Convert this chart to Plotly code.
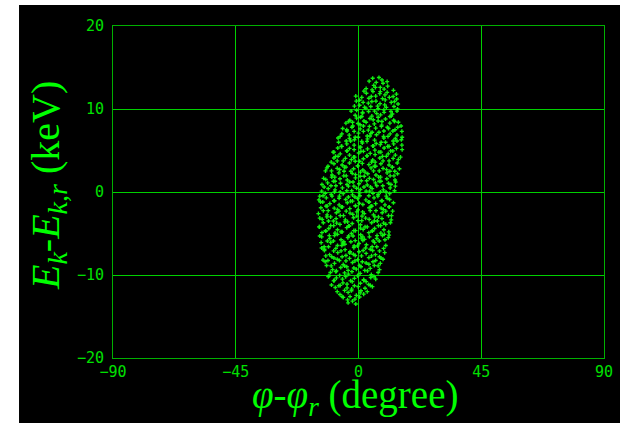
import plotly.graph_objects as go

# (phi - phi_r [degree], E_k - E_k,r [keV]) samples
samples = [
(5.2,13.7),(6.5,13.2),(8.6,13.5),(7.5,13.8),
(3.9,13.35),(5.6,12.85),(8.0,12.6),(9.0,13.1),(10.5,13.3),
(2.0,12.15),(2.8,12.45),(5.0,12.3),(6.2,12.6),(8.0,12.1),(9.4,12.4),(10.7,12.75),(12.8,12.25),
(1.2,11.4),(2.9,11.9),(5.3,12.1),(6.3,11.55),(7.8,11.85),(9.7,11.7),(10.5,12.0),(12.7,11.5),(13.9,11.8),
(-1.0,11.55),(0.4,11.05),(1.7,10.8),(3.8,11.3),(4.7,11.5),(6.4,10.95),(8.8,11.25),(9.8,11.1),(11.3,11.4),(13.2,10.9),(14.0,11.2),
(-0.8,10.95),(0.4,10.45),(2.2,10.2),(3.6,10.7),(4.9,10.9),(7.0,10.35),(7.9,10.65),(9.6,10.5),(12.0,10.8),(13.0,10.3),(14.5,10.6),
(-1.5,10.35),(-0.7,9.85),(1.5,9.6),(2.7,10.1),(4.5,10.3),(5.9,9.75),(7.2,10.05),(9.3,9.9),(10.2,10.2),(11.9,9.7),(14.3,10.0),
(-2.7,9.75),(-1.2,9.25),(0.7,9.0),(1.5,9.5),(3.7,9.7),(4.9,9.15),(6.7,9.45),(8.1,9.3),(9.4,9.6),(11.5,9.1),(12.4,9.4),(14.1,9.75),
(-3.2,8.65),(-2.2,8.4),(-0.7,8.9),(1.2,9.1),(2.0,8.55),(4.2,8.85),(5.4,8.7),(7.2,9.0),(8.6,8.5),(9.9,8.8),(12.0,9.15),(12.9,8.65),(14.6,8.4),
(-4.6,8.3),(-3.6,8.5),(-2.1,7.95),(-0.2,8.25),(0.6,8.1),(2.8,8.4),(4.0,7.9),(5.8,8.2),(7.2,8.55),(8.5,8.05),(10.6,7.8),(11.5,8.3),(13.2,8.5),(15.6,7.95),
(-5.8,7.65),(-4.3,7.5),(-2.4,7.8),(-1.6,7.3),(0.6,7.6),(1.8,7.95),(3.6,7.45),(5.0,7.2),(6.3,7.7),(8.4,7.9),(9.3,7.35),(11.0,7.65),(13.4,7.5),(14.4,7.8),(15.9,7.3),
(-6.1,7.0),(-4.2,7.35),(-3.4,6.85),(-1.2,6.6),(0.0,7.1),(1.8,7.3),(3.2,6.75),(4.5,7.05),(6.6,6.9),(7.5,7.2),(9.2,6.7),(11.6,7.0),(12.6,7.35),(14.1,6.85),(16.0,6.6),
(-7.5,6.5),(-6.7,6.7),(-4.5,6.15),(-3.3,6.45),(-1.5,6.3),(-0.1,6.6),(1.2,6.1),(3.3,6.4),(4.2,6.75),(5.9,6.25),(8.3,6.0),(9.3,6.5),(10.8,6.7),(12.7,6.15),(13.5,6.45),(15.7,6.3),
(-7.3,6.0),(-6.1,5.5),(-4.3,5.8),(-2.9,6.15),(-1.6,5.65),(0.5,5.4),(1.4,5.9),(3.1,6.1),(5.5,5.55),(6.5,5.85),(8.0,5.7),(9.9,6.0),(10.7,5.5),(12.9,5.8),(14.1,6.15),(15.9,5.65),
(-9.0,4.8),(-7.6,5.3),(-6.3,5.5),(-4.2,4.95),(-3.3,5.25),(-1.6,5.1),(0.8,5.4),(1.8,4.9),(3.3,5.2),(5.2,5.55),(6.0,5.05),(8.2,4.8),(9.4,5.3),(11.2,5.5),(12.6,4.95),(13.9,5.25),(16.0,5.1),
(-9.3,4.8),(-8.4,4.3),(-6.7,4.6),(-4.3,4.95),(-3.3,4.45),(-1.8,4.2),(0.1,4.7),(0.9,4.9),(3.1,4.35),(4.3,4.65),(6.1,4.5),(7.5,4.8),(8.8,4.3),(10.9,4.6),(11.8,4.95),(13.5,4.45),
(-10.0,3.6),(-9.0,4.1),(-7.5,4.3),(-5.6,3.75),(-4.8,4.05),(-2.6,3.9),(-1.4,4.2),(0.4,3.7),(1.8,4.0),(3.1,4.35),(5.2,3.85),(6.1,3.6),(7.8,4.1),(10.2,4.3),(11.2,3.75),(12.7,4.05),(14.6,3.9),(15.4,4.2),
(-11.2,3.1),(-9.0,3.4),(-7.8,3.75),(-6.0,3.25),(-4.6,3.0),(-3.3,3.5),(-1.2,3.7),(-0.3,3.15),(1.4,3.45),(3.8,3.3),(4.8,3.6),(6.3,3.1),(8.2,3.4),(9.0,3.75),(11.2,3.25),(12.4,3.0),(14.2,3.5),
(-11.6,2.9),(-9.9,2.55),(-7.8,2.85),(-6.9,2.7),(-5.2,3.0),(-2.8,2.5),(-1.8,2.8),(-0.3,3.15),(1.6,2.65),(2.4,2.4),(4.6,2.9),(5.8,3.1),(7.6,2.55),(9.0,2.85),(10.3,2.7),(12.4,3.0),(13.3,2.5),(15.0,2.8),
(-12.1,2.55),(-9.7,2.05),(-8.7,1.8),(-7.2,2.3),(-5.3,2.5),(-4.5,1.95),(-2.3,2.25),(-1.1,2.1),(0.7,2.4),(2.1,1.9),(3.4,2.2),(5.5,2.55),(6.4,2.05),(8.1,1.8),(10.5,2.3),(11.5,2.5),(13.0,1.95),(14.3,2.2),
(-12.8,1.65),(-12.0,1.5),(-9.8,1.8),(-8.6,1.3),(-6.8,1.6),(-5.4,1.95),(-4.1,1.45),(-2.0,1.2),(-1.1,1.7),(0.6,1.9),(3.0,1.35),(4.0,1.65),(5.5,1.5),(7.4,1.8),(8.2,1.3),(10.4,1.6),(11.6,1.95),(13.4,1.45),
(-13.4,0.9),(-12.6,0.6),(-11.3,1.1),(-9.2,1.3),(-8.3,0.75),(-6.6,1.05),(-4.2,0.9),(-3.2,1.2),(-1.7,0.7),(0.2,1.0),(1.0,1.35),(3.2,0.85),(4.4,0.6),(6.2,1.1),(7.6,1.3),(8.9,0.75),(11.0,1.05),(11.9,0.9),(13.6,1.2),
(-13.5,0.1),(-11.1,0.4),(-10.1,0.75),(-8.6,0.25),(-6.7,0.0),(-5.9,0.5),(-3.7,0.7),(-2.5,0.15),(-0.7,0.45),(0.7,0.3),(2.0,0.6),(4.1,0.1),(5.0,0.4),(6.7,0.75),(9.1,0.25),(10.1,0.0),(11.6,0.5),(13.5,0.7),
(-14.2,-0.5),(-13.0,-0.45),(-12.2,-0.15),(-10.0,-0.3),(-8.8,0.0),(-7.0,-0.5),(-5.6,-0.2),(-4.3,0.15),(-2.2,-0.35),(-1.3,-0.6),(0.4,-0.1),(2.8,0.1),(3.8,-0.45),(5.3,-0.15),(7.2,-0.3),(8.0,0.0),(10.2,-0.5),(11.4,-0.2),(13.2,0.15),
(-14.5,-0.95),(-13.1,-1.2),(-11.8,-0.7),(-9.7,-0.5),(-8.8,-1.05),(-7.1,-0.75),(-4.7,-0.9),(-3.7,-0.6),(-2.2,-1.1),(-0.3,-0.8),(0.5,-0.45),(2.7,-0.95),(3.9,-1.2),(5.7,-0.7),(7.1,-0.5),(8.4,-1.05),(10.5,-0.75),(11.4,-0.9),
(-13.9,-1.2),(-11.5,-1.7),(-10.5,-1.4),(-9.0,-1.05),(-7.1,-1.55),(-6.3,-1.8),(-4.1,-1.3),(-2.9,-1.1),(-1.1,-1.65),(0.3,-1.35),(1.6,-1.5),(3.7,-1.2),(4.6,-1.7),(6.3,-1.4),(8.7,-1.05),(9.7,-1.55),(11.2,-1.8),(12.8,-1.3),
(-13.8,-1.9),(-11.9,-1.7),(-11.1,-2.25),(-8.9,-1.95),(-7.7,-2.1),(-5.9,-1.8),(-4.5,-2.3),(-3.2,-2.0),(-1.1,-1.65),(-0.2,-2.15),(1.5,-2.4),(3.9,-1.9),(4.9,-1.7),(6.4,-2.25),(8.3,-1.95),(9.1,-2.1),(11.3,-1.8),(12.5,-2.3),
(-14.7,-2.6),(-12.9,-2.25),(-11.5,-2.75),(-10.2,-3.0),(-8.1,-2.5),(-7.2,-2.3),(-5.5,-2.85),(-3.1,-2.55),(-2.1,-2.7),(-0.6,-2.4),(1.3,-2.9),(2.1,-2.6),(4.3,-2.25),(5.5,-2.75),(7.3,-3.0),(8.7,-2.5),(10.0,-2.3),(12.1,-2.85),
(-14.2,-3.15),(-13.3,-3.3),(-11.6,-3.0),(-9.2,-3.5),(-8.2,-3.2),(-6.7,-2.85),(-4.8,-3.35),(-4.0,-3.6),(-1.8,-3.1),(-0.6,-2.9),(1.2,-3.45),(2.6,-3.15),(3.9,-3.3),(6.0,-3.0),(6.9,-3.5),(8.6,-3.2),(11.0,-2.85),(12.0,-3.35),
(-14.4,-4.2),(-12.9,-3.7),(-11.0,-3.5),(-10.2,-4.05),(-8.0,-3.75),(-6.8,-3.9),(-5.0,-3.6),(-3.6,-4.1),(-2.3,-3.8),(-0.2,-3.45),(0.7,-3.95),(2.4,-4.2),(4.8,-3.7),(5.8,-3.5),(7.3,-4.05),(9.2,-3.75),(10.0,-3.9),(11.7,-3.7),
(-14.3,-4.2),(-12.1,-4.7),(-10.9,-4.4),(-9.1,-4.05),(-7.7,-4.55),(-6.4,-4.8),(-4.3,-4.3),(-3.4,-4.1),(-1.7,-4.65),(0.7,-4.35),(1.7,-4.5),(3.2,-4.2),(5.1,-4.7),(5.9,-4.4),(8.1,-4.05),(9.3,-4.55),(11.1,-4.8),
(-14.2,-5.3),(-13.4,-4.9),(-12.0,-4.7),(-10.7,-5.25),(-8.6,-4.95),(-7.7,-5.1),(-6.0,-4.8),(-3.6,-5.3),(-2.6,-5.0),(-1.1,-4.65),(0.8,-5.15),(1.6,-5.4),(3.8,-4.9),(5.0,-4.7),(6.8,-5.25),(8.2,-4.95),(9.5,-5.1),(11.2,-5.2),
(-13.5,-5.4),(-11.4,-5.9),(-10.5,-5.6),(-8.8,-5.25),(-6.4,-5.75),(-5.4,-6.0),(-3.9,-5.5),(-2.0,-5.3),(-1.2,-5.85),(1.0,-5.55),(2.2,-5.7),(4.0,-5.4),(5.4,-5.9),(6.7,-5.6),(8.8,-5.25),(9.7,-5.75),(10.9,-5.5),
(-13.7,-6.1),(-12.6,-6.6),(-10.2,-6.1),(-9.2,-5.9),(-7.7,-6.45),(-5.8,-6.15),(-5.0,-6.3),(-2.8,-6.0),(-1.6,-6.5),(0.2,-6.2),(1.6,-5.85),(2.9,-6.35),(5.0,-6.6),(5.9,-6.1),(7.6,-5.9),(10.0,-6.45),
(-13.5,-6.75),(-12.5,-6.9),(-11.0,-6.6),(-9.1,-7.1),(-8.3,-6.8),(-6.1,-6.45),(-4.9,-6.95),(-3.1,-7.2),(-1.7,-6.7),(-0.4,-6.5),(1.7,-7.05),(2.6,-6.75),(4.3,-6.9),(6.7,-6.6),(7.7,-7.1),(9.2,-6.8),
(-12.5,-7.05),(-10.6,-7.55),(-9.8,-7.8),(-7.6,-7.3),(-6.4,-7.1),(-4.6,-7.65),(-3.2,-7.35),(-1.9,-7.5),(0.2,-7.2),(1.1,-7.7),(2.8,-7.4),(5.2,-7.05),(6.2,-7.55),(7.7,-7.8),(9.6,-7.3),
(-13.0,-8.2),(-12.0,-7.7),(-11.2,-8.25),(-9.0,-7.95),(-7.8,-8.1),(-6.0,-7.8),(-4.6,-8.3),(-3.3,-8.0),(-1.2,-7.65),(-0.3,-8.15),(1.4,-8.4),(3.8,-7.9),(4.8,-7.7),(6.3,-8.25),(8.2,-7.95),(9.0,-8.1),
(-12.2,-8.4),(-10.0,-8.9),(-8.8,-8.6),(-7.0,-8.25),(-5.6,-8.75),(-4.3,-9.0),(-2.2,-8.5),(-1.3,-8.3),(0.4,-8.85),(2.8,-8.55),(3.8,-8.7),(5.3,-8.4),(7.2,-8.9),(8.0,-8.6),
(-11.7,-8.85),(-9.5,-9.35),(-8.3,-9.6),(-6.5,-9.1),(-5.1,-8.9),(-3.8,-9.45),(-1.7,-9.15),(-0.8,-9.3),(0.9,-9.0),(3.3,-9.5),(4.3,-9.2),(5.8,-8.85),(7.7,-9.35),
(-11.1,-10.2),(-10.3,-9.7),(-8.1,-9.5),(-6.9,-10.05),(-5.1,-9.75),(-3.7,-9.9),(-2.4,-9.6),(-0.3,-10.1),(0.6,-9.8),(2.3,-9.45),(4.7,-9.95),(5.7,-10.2),(7.2,-9.7),
(-10.8,-10.1),(-8.9,-10.65),(-8.1,-10.35),(-5.9,-10.5),(-4.7,-10.2),(-2.9,-10.7),(-1.5,-10.4),(-0.2,-10.05),(1.9,-10.55),(2.8,-10.8),(4.5,-10.3),(6.3,-10.5),
(-9.9,-11.2),(-9.1,-10.7),(-6.7,-11.25),(-5.7,-10.95),(-4.2,-11.1),(-2.3,-10.8),(-1.5,-11.3),(0.7,-11.0),(1.9,-10.65),(3.7,-11.15),(5.1,-11.4),
(-8.5,-11.5),(-7.2,-11.3),(-5.1,-11.85),(-4.2,-11.55),(-2.5,-11.7),(-0.1,-11.4),(0.9,-11.9),(2.4,-11.6),(4.3,-11.25),
(-7.8,-12.0),(-6.8,-12.35),(-6.0,-12.6),(-3.8,-12.1),(-2.6,-11.9),(-0.8,-12.45),(0.6,-12.15),(1.9,-12.3),(3.2,-12.0),
(-5.6,-12.7),(-4.0,-13.0),(-3.1,-12.6),(-1.3,-12.9),(0.4,-12.65),
(-3.8,-13.35),(-2.2,-13.15),(-1.0,-13.5),
]
phi_diff = [s[0] for s in samples]
e_diff = [s[1] for s in samples]

x_ticks = [-90, -45, 0, 45, 90]
y_ticks = [-20, -10, 0, 10, 20]
x_title = "<i>φ</i>-<i>φ<sub>r</sub></i> (degree)"
y_title = "<i>E<sub>k</sub></i>-<i>E<sub>k,r</sub></i> (keV)"


def label(v):
    return str(v).replace("-", "\u2212")


GREEN = "#00e000"
GRID = "#00d000"
BOX = "#00b000"

fig = go.Figure()
fig.add_trace(go.Scatter(
    x=phi_diff, y=e_diff, mode="markers",
    marker=dict(symbol="cross", size=3.4, color="#10f010", line=dict(width=0)),
    showlegend=False, hoverinfo="skip",
))

fig.add_shape(type="rect", xref="paper", yref="paper",
              x0=-0.1914, x1=1.1, y0=-0.21, y1=1.0633,
              fillcolor="black", line=dict(width=0), layer="below")

tick_font = dict(family="DejaVu Sans Mono", size=15, color=GREEN)

fig.add_annotation(text=x_title, xref="paper", yref="paper", x=0.493, y=-0.118,
                   xanchor="center", yanchor="middle", showarrow=False,
                   font=dict(family="Liberation Serif", size=39, color="#00ff00"))
fig.add_annotation(text=y_title, xref="paper", yref="paper", x=-0.1324, y=0.521,
                   xanchor="center", yanchor="middle", showarrow=False, textangle=-90,
                   font=dict(family="Liberation Serif", size=40, color="#00ff00"))

fig.update_layout(
    width=620, height=423,
    margin=dict(l=113, r=16, t=26, b=65),
    paper_bgcolor="white", plot_bgcolor="black",
    xaxis=dict(range=[-90, 90], tickvals=x_ticks, ticktext=[label(v) for v in x_ticks],
               showgrid=True, gridcolor=GRID, gridwidth=1, zeroline=False,
               showline=True, linecolor=BOX, linewidth=1, mirror=True,
               ticks="", tickfont=tick_font, automargin=False),
    yaxis=dict(range=[-20, 20], tickvals=y_ticks, ticktext=[label(v) for v in y_ticks],
               showgrid=True, gridcolor=GRID, gridwidth=1, zeroline=False,
               showline=True, linecolor=BOX, linewidth=1, mirror=True,
               ticks="", tickfont=tick_font, ticklabelstandoff=5, automargin=False),
)

fig.write_html("out.html", config={"displayModeBar": False},
               post_script="document.body.style.margin='0';")
